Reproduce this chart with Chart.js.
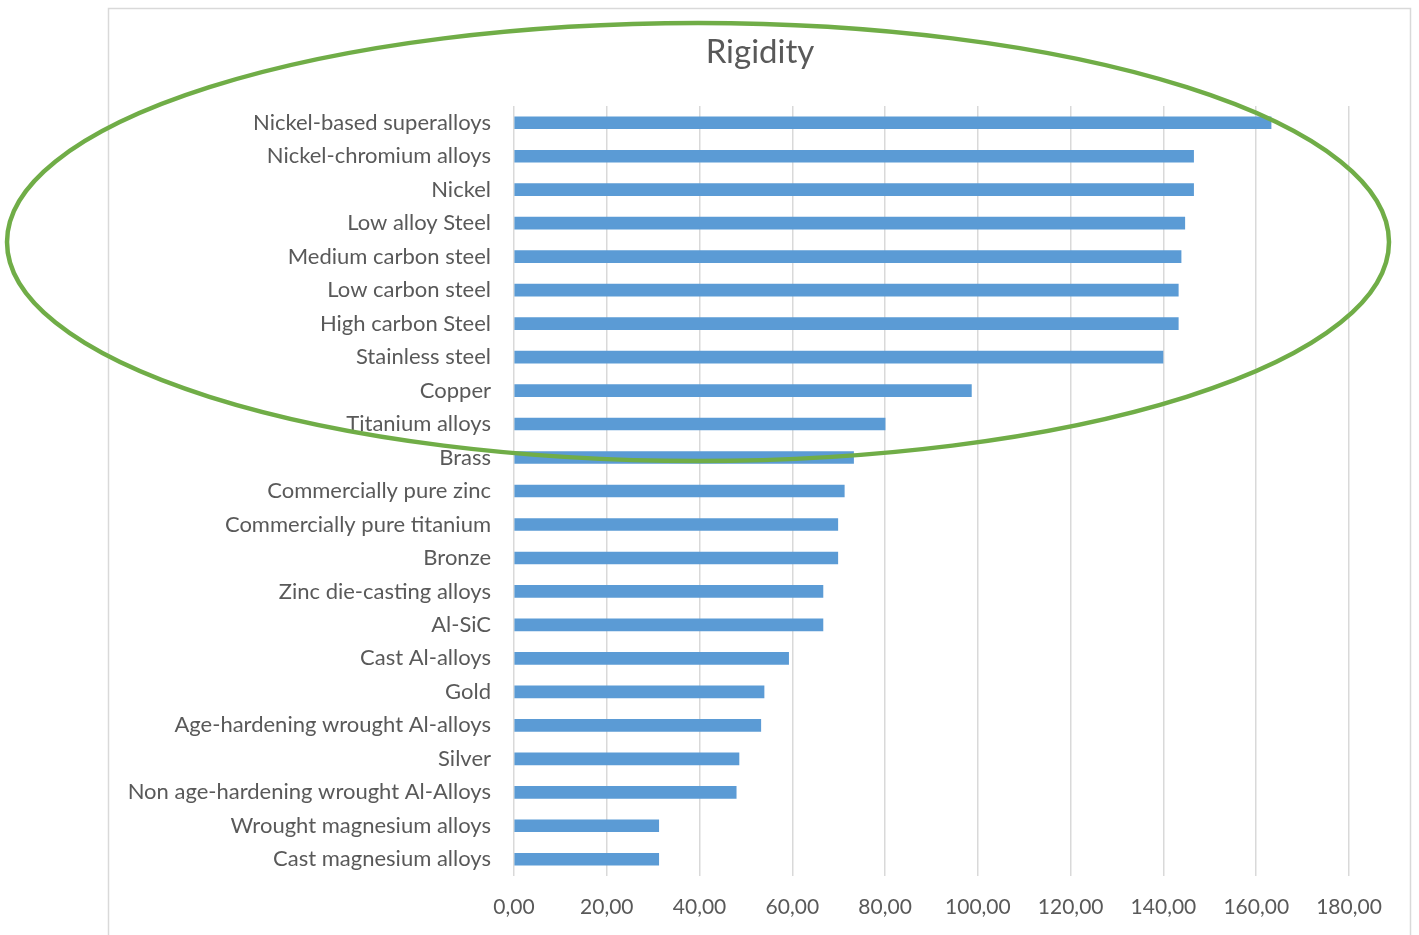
<!DOCTYPE html>
<html>
<head>
<meta charset="utf-8">
<script src="https://cdn.jsdelivr.net/npm/chart.js@4/dist/chart.umd.min.js"></script>
<style>
  html, body { margin: 0; padding: 0; background: #fff; }
  #wrap { width: 1419px; height: 935px; }
</style>
</head>
<body>
<div id="wrap"><canvas id="myChart" width="1419" height="935"></canvas></div>
<script>
let materials = [
  "Nickel-based superalloys", "Nickel-chromium alloys", "Nickel", "Low alloy Steel",
  "Medium carbon steel", "Low carbon steel", "High carbon Steel", "Stainless steel",
  "Copper", "Titanium alloys", "Brass", "Commercially pure zinc",
  "Commercially pure titanium", "Bronze", "Zinc die-casting alloys", "Al-SiC",
  "Cast Al-alloys", "Gold", "Age-hardening wrought Al-alloys", "Silver",
  "Non age-hardening wrought Al-Alloys", "Wrought magnesium alloys", "Cast magnesium alloys"
]
let rigidity = [
  163.2, 146.5, 146.5, 144.6,
  143.8, 143.2, 143.2, 139.9,
  98.6, 80.0, 73.2, 71.2,
  69.8, 69.8, 66.6, 66.6,
  59.2, 53.9, 53.2, 48.5,
  47.9, 31.2, 31.2
]
let tickLabels = ["0,00", "20,00", "40,00", "60,00", "80,00", "100,00", "120,00", "140,00", "160,00", "180,00"]
let chartTitle = "Rigidity"

const textColor = "#595959"
const fontFamily = "Lato, 'Open Sans', sans-serif"

// frame of the chart box, its title, and the green ring drawn over it
const framePlugin = {
  id: "frame",
  beforeDraw(chart) {
    let c = chart.ctx
    c.save()
    c.fillStyle = "#fff"
    c.fillRect(0, 0, chart.width, chart.height)
    c.strokeStyle = "#d9d9d9"
    c.lineWidth = 1.5
    c.strokeRect(108.5, 8.5, 1302, 1000)
    c.fillStyle = textColor
    c.font = "33px " + fontFamily
    c.textAlign = "center"
    c.textBaseline = "middle"
    c.fillText(chartTitle, 760, 52)
    c.restore()
  },
  afterDraw(chart) {
    let c = chart.ctx
    c.save()
    c.strokeStyle = "#70ad47"
    c.lineWidth = 4.5
    c.beginPath()
    c.ellipse(698, 242, 691, 219, 0, 0, Math.PI * 2)
    c.stroke()
    c.restore()
  }
}

const ctx = document.getElementById("myChart")
new Chart(ctx, {
  type: "bar",
  data: {
    labels: materials,
    datasets: [{
      label: chartTitle,
      data: rigidity,
      backgroundColor: "#5b9bd5",
      borderWidth: 0,
      barThickness: 12
    }]
  },
  plugins: [framePlugin],
  options: {
    indexAxis: "y",
    responsive: false,
    animation: false,
    layout: { padding: { left: 0, right: 70, top: 106, bottom: 0 } },
    plugins: {
      legend: { display: false },
      tooltip: { enabled: false },
      title: { display: false }
    },
    scales: {
      x: {
        min: 0,
        max: 180,
        ticks: {
          stepSize: 20,
          color: textColor,
          padding: 19,
          font: { family: fontFamily, size: 21 },
          callback: (v, i) => tickLabels[i]
        },
        grid: { color: "#d9d9d9", lineWidth: 1.5, drawTicks: false },
        border: { display: false },
        afterFit: s => { s.height = 59 }
      },
      y: {
        ticks: {
          color: textColor,
          padding: 23,
          font: { family: fontFamily, size: 22 },
          autoSkip: false
        },
        grid: { display: false, drawTicks: false },
        border: { display: false },
        afterFit: s => { s.width = 514 }
      }
    }
  }
})
</script>
</body>
</html>
